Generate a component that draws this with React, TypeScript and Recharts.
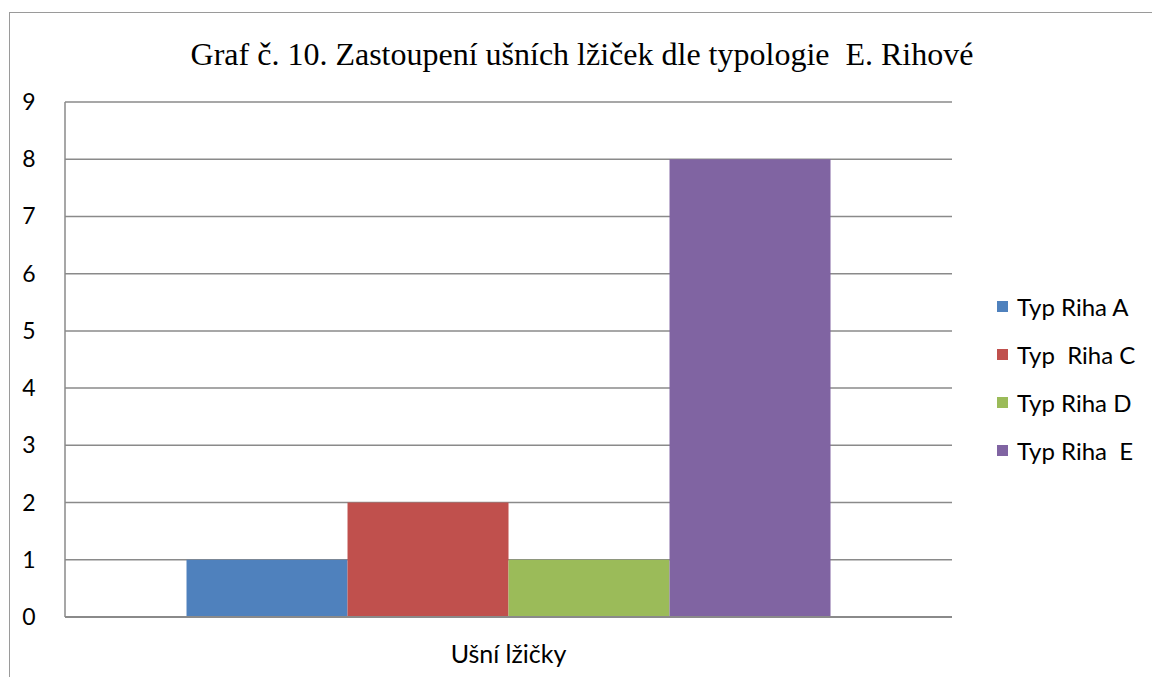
import React from 'react';
import { BarChart, Bar, XAxis, YAxis, CartesianGrid } from 'recharts';

// categories and series values
const categories = ['Ušní lžičky'];
const seriesNames = ['Typ Riha A', 'Typ  Riha C', 'Typ Riha D', 'Typ Riha  E'];
const seriesValues = [[1], [2], [1], [8]];
const seriesColors = ['#4F81BD', '#C0504D', '#9BBB59', '#8064A2'];
const yTicks = [0, 1, 2, 3, 4, 5, 6, 7, 8, 9];

const TITLE = 'Graf č. 10. Zastoupení ušních lžiček dle typologie  E. Rihové';
const lineColor = '#8a8a8a';
const sansFont = 'Lato, "Open Sans", sans-serif';

const chartData = categories.map((c, ci) => {
  const row: Record<string, any> = { name: c };
  seriesNames.forEach((s, si) => {
    row[`s${si}`] = seriesValues[si][ci];
  });
  return row;
});

const YTick = ({ x, y, payload }: any) => (
  <text x={x - 28} y={y} dy={8} textAnchor="middle" fill="#000" fontSize={23} fontFamily={sansFont}>
    {payload.value}
  </text>
);

const XTick = ({ x, y, payload }: any) => (
  <text x={x} y={y} dy={38} textAnchor="middle" fill="#000" fontSize={25} fontFamily={sansFont}>
    {payload.value}
  </text>
);

export default function App() {
  return (
    <div style={{ position: 'absolute', left: 0, top: 0, width: 1152, height: 677, overflow: 'hidden', background: '#fff' }}>
      <div
        style={{
          position: 'absolute', left: 9, top: 12, width: 1200, height: 700,
          borderLeft: '1px solid #9a9a9a', borderTop: '1px solid #9a9a9a',
        }}
      />
      <div
        style={{
          position: 'absolute', left: 0, top: 34, width: 1164, textAlign: 'center',
          fontFamily: '"Liberation Serif", "Times New Roman", serif', fontSize: 32, lineHeight: '40px', color: '#000',
          whiteSpace: 'pre',
        }}
      >
        {TITLE}
      </div>
      <div style={{ position: 'absolute', left: 0, top: 0 }}>
        <BarChart
          width={1152}
          height={677}
          data={chartData}
          margin={{ top: 102, right: 200, bottom: 0, left: 0 }}
          barCategoryGap="13.7%"
          barGap={0}
        >
          <CartesianGrid horizontal vertical={false} stroke={lineColor} strokeWidth={1.5} />
          <XAxis
            dataKey="name"
            tick={<XTick />}
            tickLine={false}
            axisLine={{ stroke: lineColor, strokeWidth: 2 }}
            height={60}
          />
          <YAxis
            domain={[0, 9]}
            ticks={yTicks}
            interval={0}
            tick={<YTick />}
            tickLine={false}
            axisLine={{ stroke: lineColor, strokeWidth: 1.5 }}
            width={65}
          />
          {seriesNames.map((s, i) => (
            <Bar key={s} dataKey={`s${i}`} name={s} fill={seriesColors[i]} isAnimationActive={false} />
          ))}
        </BarChart>
      </div>
      <div style={{ position: 'absolute', left: 997, top: 282, fontFamily: sansFont, fontSize: 24, color: '#000' }}>
        {seriesNames.map((s, i) => (
          <div key={s} style={{ display: 'flex', alignItems: 'center', height: 48, whiteSpace: 'pre' }}>
            <div style={{ width: 11, height: 11, background: seriesColors[i], marginRight: 9 }} />
            <span>{s}</span>
          </div>
        ))}
      </div>
    </div>
  );
}
